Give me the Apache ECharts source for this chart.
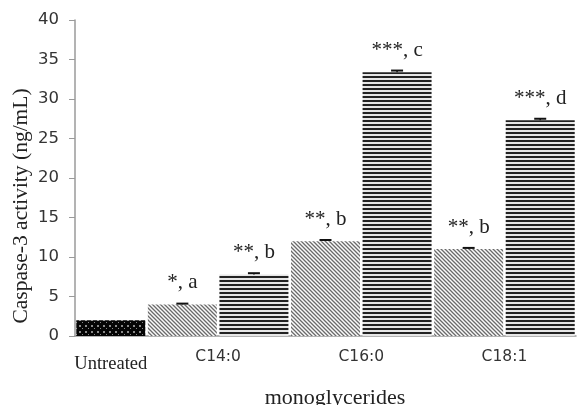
<!DOCTYPE html>
<html>
<head>
<meta charset="utf-8">
<script src="https://cdn.jsdelivr.net/npm/echarts@6/dist/echarts.min.js"></script>
<style>
  html, body { margin: 0; padding: 0; background: #fff; }
  #chart { width: 579px; height: 405px; }
</style>
</head>
<body>
<div id="chart"></div>
<script>
// bar positions on the x scale (one unit per bar)
const barPos = [0.5, 1.5, 2.5, 3.5, 4.5, 5.5, 6.5];
const barValues = [2, 4, 7.8, 12, 33.4, 11, 27.3];
const barErrors = [0, 0.1, 0.15, 0.15, 0.2, 0.15, 0.2];
const barPatterns = ["dots", "diag", "horiz", "diag", "horiz", "diag", "horiz"];
const barLabels = ["", "*, a", "**, b", "**, b", "***, c", "**, b", "***, d"];

// group labels and where they sit on the x scale
const groupPos = [0.5, 2, 4, 6];
const groupNames = ["Untreated", "C14:0", "C16:0", "C18:1"];

const yTicks = [0, 5, 10, 15, 20, 25, 30, 35, 40];

// small canvas tiles used as fill patterns
const makeTile = (w, h, draw) => {
  const c = document.createElement("canvas");
  c.width = w;
  c.height = h;
  draw(c.getContext("2d"));
  return { image: c, repeat: "repeat" };
};

const patterns = {
  dots: makeTile(6, 6, (ctx) => {
    ctx.fillStyle = "#050505";
    ctx.fillRect(0, 0, 6, 6);
    ctx.fillStyle = "#8a8a8a";
    ctx.fillRect(1, 1, 2, 2);
    ctx.fillRect(4, 4, 1, 1);
  }),
  diag: makeTile(4, 4, (ctx) => {
    ctx.fillStyle = "#fafafa";
    ctx.fillRect(0, 0, 4, 4);
    ctx.strokeStyle = "#6a6a6a";
    ctx.lineWidth = 1.3;
    ctx.beginPath();
    ctx.moveTo(-1, -1);
    ctx.lineTo(5, 5);
    ctx.moveTo(-3, 1);
    ctx.lineTo(3, 7);
    ctx.moveTo(1, -3);
    ctx.lineTo(7, 3);
    ctx.stroke();
  }),
  horiz: makeTile(4, 4, (ctx) => {
    ctx.fillStyle = "#e6e6e6";
    ctx.fillRect(0, 0, 4, 4);
    ctx.fillStyle = "#222";
    ctx.fillRect(0, 0, 4, 2);
  }),
};

const chart = echarts.init(document.getElementById("chart"));

const barData = barPos.map((x, i) => ({
  value: [x, barValues[i]],
  itemStyle: { color: patterns[barPatterns[i]] },
  label: { formatter: barLabels[i] },
}));

const errData = barPos.map((x, i) => [x, barValues[i], barErrors[i]]);

const option = {
  backgroundColor: "#fff",
  animation: false,
  grid: { left: 75, right: 0, top: 20, bottom: 69 },
  xAxis: {
    type: "value",
    min: 0,
    max: 7,
    interval: 0.5,
    splitLine: { show: false },
    axisTick: { show: false },
    axisLine: { show: true, onZero: false, lineStyle: { color: "#9a9a9a", width: 1.5 } },
    axisLabel: {
      margin: 13,
      formatter: (v) => {
        const k = groupPos.indexOf(v);
        if (k < 0) return "";
        return k === 0 ? "{u|" + groupNames[k] + "}" : "{c|" + groupNames[k] + "}";
      },
      rich: {
        u: { fontFamily: "Liberation Serif", fontSize: 18.5, color: "#222", padding: [6, 0, 0, 0] },
        c: { fontFamily: "DejaVu Sans", fontSize: 15.5, color: "#333" },
      },
    },
  },
  yAxis: {
    type: "value",
    min: 0,
    max: 40,
    interval: 5,
    splitLine: { show: false },
    axisLine: { show: true, lineStyle: { color: "#9a9a9a", width: 1.5 } },
    axisTick: { show: true, length: 6, lineStyle: { color: "#9a9a9a" } },
    axisLabel: {
      margin: 16,
      fontFamily: "DejaVu Sans",
      fontSize: 16.5,
      color: "#333",
      formatter: (v) => (yTicks.includes(v) ? String(v) : ""),
    },
  },
  series: [
    {
      type: "bar",
      barWidth: 69,
      data: barData,
      label: {
        show: true,
        position: "top",
        distance: 11,
        fontFamily: "Liberation Serif",
        fontSize: 21,
        color: "#222",
      },
    },
    {
      type: "custom",
      data: errData,
      renderItem: (params, api) => {
        if (!api.value(2)) return null;
        const x = api.value(0);
        const top = api.coord([x, api.value(1) + api.value(2)]);
        const base = api.coord([x, api.value(1)]);
        return {
          type: "group",
          children: [
            {
              type: "line",
              shape: { x1: top[0] - 6, y1: top[1], x2: top[0] + 6, y2: top[1] },
              style: { stroke: "#111", lineWidth: 2 },
            },
            {
              type: "line",
              shape: { x1: top[0], y1: top[1], x2: base[0], y2: base[1] },
              style: { stroke: "#111", lineWidth: 1.5 },
            },
          ],
        };
      },
      z: 5,
    },
  ],
  graphic: [
    {
      type: "text",
      x: 21,
      y: 206,
      rotation: Math.PI / 2,
      style: {
        text: "Caspase-3 activity (ng/mL)",
        fontFamily: "Liberation Serif",
        fontSize: 21.5,
        fill: "#222",
        align: "center",
        verticalAlign: "middle",
      },
    },
    {
      type: "text",
      x: 335,
      y: 398,
      style: {
        text: "monoglycerides",
        fontFamily: "Liberation Serif",
        fontSize: 22,
        fill: "#222",
        align: "center",
        verticalAlign: "middle",
      },
    },
  ],
};

chart.setOption(option);
</script>
</body>
</html>
